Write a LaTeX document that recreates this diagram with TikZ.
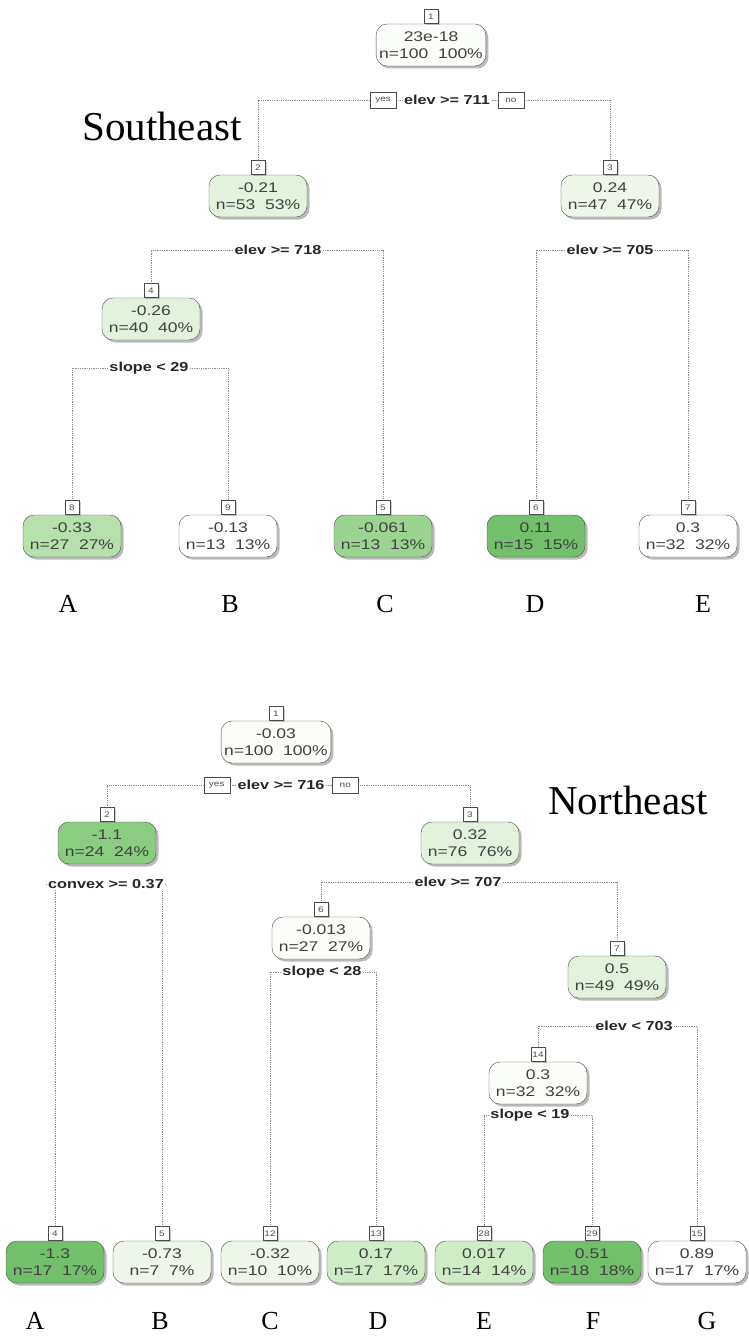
\documentclass[tikz,border=0pt]{standalone}
\usepackage{fontspec}
\setmainfont{Liberation Serif}
\newfontfamily\boxfont[FakeStretch=1.25]{Liberation Sans}
\usetikzlibrary{positioning}
\usetikzlibrary{shadows}
\usetikzlibrary{backgrounds}
\definecolor{gw}{HTML}{FBFDF9}
\definecolor{ga}{HTML}{EEF7EA}
\definecolor{gb}{HTML}{E2F2DC}
\definecolor{gc}{HTML}{CFECC7}
\definecolor{gd}{HTML}{B7E1AC}
\definecolor{ge}{HTML}{9BD490}
\definecolor{gf}{HTML}{8ACD81}
\definecolor{gg}{HTML}{72C06B}
\tikzset{rbox/.style = {draw=black!70, rounded corners=11pt, minimum width=98pt,
                        minimum height=42pt, inner xsep=3pt, inner ysep=2pt, align=center,
                        text=black!75, font=\boxfont\fontsize{14}{17}\selectfont,
                        drop shadow={shadow xshift=2.5pt, shadow yshift=-2.5pt,
                                     fill=black!60, opacity=0.45}}}
\tikzset{tagbox/.style = {draw=black!70, fill=white, minimum size=14pt, inner sep=1pt,
                          font=\boxfont\fontsize{8}{9}\selectfont, text=black!70,
                          drop shadow={shadow xshift=1.5pt, shadow yshift=-1.5pt,
                                       fill=black!50, opacity=0.4}}}
\tikzset{split/.style = {fill=white, inner sep=1.5pt, text=black!85,
                         font=\boxfont\fontsize{13}{15}\selectfont\bfseries}}
\tikzset{yesno/.style = {draw=black!70, fill=white, minimum width=26pt, minimum height=16pt,
                         inner sep=1pt, font=\boxfont\fontsize{8}{9}\selectfont, text=black!70}}
\tikzset{link/.style = {draw=black!45, densely dotted, line width=0.8pt}}
\tikzset{letter/.style = {font=\fontsize{26}{28}\selectfont}}
\tikzset{region/.style = {font=\fontsize{41}{44}\selectfont}}

\begin{document}
\begin{tikzpicture}[x=1pt, y=-1pt]
  \useasboundingbox (0,0) rectangle (748,1338);

  % southeast tree
  \node[region] (se) at (162,126) {Southeast};
  \node[rbox, fill=gw] (se1) at (431,45) {23e-18\\n=100\ \ 100\%};
  \node[tagbox, above=0pt of se1] (se1t) {1};
  \node[split] (se1s) at (447,100) {elev >= 711};
  \node[yesno, left=6pt of se1s] (se1y) {yes};
  \node[yesno, right=6pt of se1s] (se1n) {no};

  \node[rbox, fill=gb] (se2) at (258,196) {-0.21\\n=53\ \ 53\%};
  \node[tagbox, above=0pt of se2] (se2t) {2};
  \node[split] (se2s) at (278,250) {elev >= 718};

  \node[rbox, fill=ga] (se3) at (610,196) {0.24\\n=47\ \ 47\%};
  \node[tagbox, above=0pt of se3] (se3t) {3};
  \node[split] (se3s) at (610,250) {elev >= 705};

  \node[rbox, fill=gb] (se4) at (151,319) {-0.26\\n=40\ \ 40\%};
  \node[tagbox, above=0pt of se4] (se4t) {4};
  \node[split] (se4s) at (149,368) {slope < 29};

  % southeast leaves
  \node[rbox, fill=gd] (se8) at (72,536) {-0.33\\n=27\ \ 27\%};
  \node[tagbox, above=0pt of se8] (se8t) {8};
  \node[rbox, fill=white] (se9) at (228,536) {-0.13\\n=13\ \ 13\%};
  \node[tagbox, above=0pt of se9] (se9t) {9};
  \node[rbox, fill=ge] (se5) at (383,536) {-0.061\\n=13\ \ 13\%};
  \node[tagbox, above=0pt of se5] (se5t) {5};
  \node[rbox, fill=gg] (se6) at (536,536) {0.11\\n=15\ \ 15\%};
  \node[tagbox, above=0pt of se6] (se6t) {6};
  \node[rbox, fill=white] (se7) at (688,536) {0.3\\n=32\ \ 32\%};
  \node[tagbox, above=0pt of se7] (se7t) {7};

  \node[letter] (seA) at (68,604) {A};
  \node[letter] (seB) at (230,604) {B};
  \node[letter] (seC) at (385,604) {C};
  \node[letter] (seD) at (535,604) {D};
  \node[letter] (seE) at (703,604) {E};

  % northeast tree
  \node[region] (ne) at (628,800) {Northeast};
  \node[rbox, fill=gw] (ne1) at (276,742) {-0.03\\n=100\ \ 100\%};
  \node[tagbox, above=0pt of ne1] (ne1t) {1};
  \node[split] (ne1s) at (281,785) {elev >= 716};
  \node[yesno, left=6pt of ne1s] (ne1y) {yes};
  \node[yesno, right=6pt of ne1s] (ne1n) {no};

  \node[rbox, fill=gf] (ne2) at (107,843) {-1.1\\n=24\ \ 24\%};
  \node[tagbox, above=0pt of ne2] (ne2t) {2};
  \node[split] (ne2s) at (106,884) {convex >= 0.37};

  \node[rbox, fill=gb] (ne3) at (470,843) {0.32\\n=76\ \ 76\%};
  \node[tagbox, above=0pt of ne3] (ne3t) {3};
  \node[split] (ne3s) at (458,882) {elev >= 707};

  \node[rbox, fill=gw] (ne6) at (321,938) {-0.013\\n=27\ \ 27\%};
  \node[tagbox, above=0pt of ne6] (ne6t) {6};
  \node[split] (ne6s) at (322,972) {slope < 28};

  \node[rbox, fill=gb] (ne7) at (617,977) {0.5\\n=49\ \ 49\%};
  \node[tagbox, above=0pt of ne7] (ne7t) {7};
  \node[split] (ne7s) at (634,1026) {elev < 703};

  \node[rbox, fill=gw] (ne14) at (538,1083) {0.3\\n=32\ \ 32\%};
  \node[tagbox, above=0pt of ne14] (ne14t) {14};
  \node[split] (ne14s) at (530,1115) {slope < 19};

  % northeast leaves
  \node[rbox, fill=gg] (ne4) at (55,1262) {-1.3\\n=17\ \ 17\%};
  \node[tagbox, above=0pt of ne4] (ne4t) {4};
  \node[rbox, fill=ga] (ne5) at (162,1262) {-0.73\\n=7\ \ 7\%};
  \node[tagbox, above=0pt of ne5] (ne5t) {5};
  \node[rbox, fill=ga] (ne12) at (270,1262) {-0.32\\n=10\ \ 10\%};
  \node[tagbox, above=0pt of ne12] (ne12t) {12};
  \node[rbox, fill=gc] (ne13) at (376,1262) {0.17\\n=17\ \ 17\%};
  \node[tagbox, above=0pt of ne13] (ne13t) {13};
  \node[rbox, fill=gc] (ne28) at (484,1262) {0.017\\n=14\ \ 14\%};
  \node[tagbox, above=0pt of ne28] (ne28t) {28};
  \node[rbox, fill=gg] (ne29) at (592,1262) {0.51\\n=18\ \ 18\%};
  \node[tagbox, above=0pt of ne29] (ne29t) {29};
  \node[rbox, fill=white] (ne15) at (697,1262) {0.89\\n=17\ \ 17\%};
  \node[tagbox, above=0pt of ne15] (ne15t) {15};

  \node[letter] (neA) at (35,1321) {A};
  \node[letter] (neB) at (160,1321) {B};
  \node[letter] (neC) at (270,1321) {C};
  \node[letter] (neD) at (378,1321) {D};
  \node[letter] (neE) at (484,1321) {E};
  \node[letter] (neF) at (593,1321) {F};
  \node[letter] (neG) at (707,1321) {G};

  % dotted branches
  \begin{scope}[on background layer]
    \draw[link] (se1s) -| (se2t);
    \draw[link] (se1s) -| (se3t);
    \draw[link] (se2s) -| (se4t);
    \draw[link] (se2s) -| (se5t);
    \draw[link] (se3s) -| (se6t);
    \draw[link] (se3s) -| (se7t);
    \draw[link] (se4s) -| (se8t);
    \draw[link] (se4s) -| (se9t);

    \draw[link] (ne1s) -| (ne2t);
    \draw[link] (ne1s) -| (ne3t);
    \draw[link] (ne2s) -| (ne4t);
    \draw[link] (ne2s) -| (ne5t);
    \draw[link] (ne3s) -| (ne6t);
    \draw[link] (ne3s) -| (ne7t);
    \draw[link] (ne6s) -| (ne12t);
    \draw[link] (ne6s) -| (ne13t);
    \draw[link] (ne7s) -| (ne14t);
    \draw[link] (ne7s) -| (ne15t);
    \draw[link] (ne14s) -| (ne28t);
    \draw[link] (ne14s) -| (ne29t);
  \end{scope}
\end{tikzpicture}
\end{document}
